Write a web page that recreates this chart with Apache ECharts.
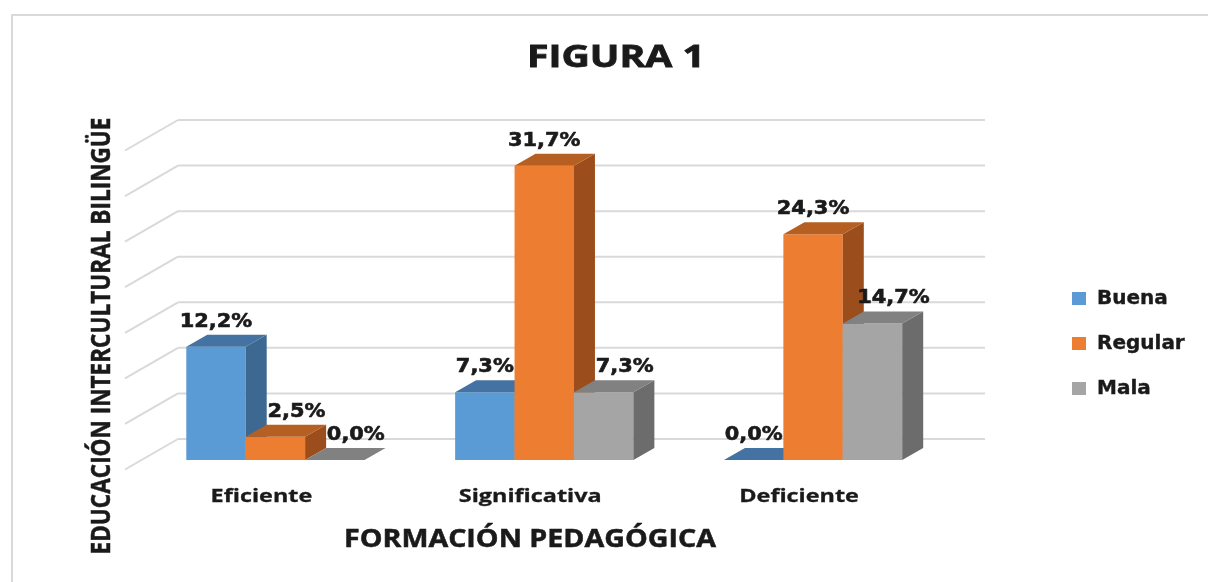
<!DOCTYPE html>
<html>
<head>
<meta charset="utf-8">
<script src="https://cdn.jsdelivr.net/npm/echarts@6/dist/echarts.min.js"></script>
<style>html,body{margin:0;padding:0;background:#fff;}#c{width:1208px;height:582px;}</style>
</head>
<body>
<div id="c"></div>
<script>
const categories = ['Eficiente', 'Significativa', 'Deficiente'];
const seriesNames = ['Buena', 'Regular', 'Mala'];
const buena = [12.2, 7.3, 0.0];
const regular = [2.5, 31.7, 24.3];
const mala = [0.0, 7.3, 14.7];
const yTicks = [0, 5, 10, 15, 20, 25, 30, 35];
const titleText = 'FIGURA 1';
const xTitle = 'FORMACIÓN PEDAGÓGICA';
const yTitle = 'EDUCACIÓN INTERCULTURAL BILINGÜE';

const values = [buena, regular, mala];
const palette = [
  { front: '#5B9BD5', top: '#4472A2', side: '#3C6891' },
  { front: '#ED7D31', top: '#B65F22', side: '#9B4E1C' },
  { front: '#A5A5A5', top: '#818181', side: '#6C6C6C' }
];
const DX = 21, DY = -12, BAR_FRAC = 0.221;
const INK = '#1A1A1A';

function measure(text, font) {
  const c = document.createElement('canvas').getContext('2d');
  c.font = font;
  return c.measureText(text).width;
}
function fmt(v) { return v.toFixed(1).replace('.', ',') + '%'; }

function barGeom(api, s) {
  const cat = api.value(0), val = api.value(1);
  const p = api.coord([cat, val]);
  const p0 = api.coord([cat, 0]);
  const band = api.size([1, 0])[0];
  const w = band * BAR_FRAC;
  const x0 = p[0] + (s - 1) * w - w / 2;
  return { x0: x0, x1: x0 + w, yTop: p[1], yBot: p0[1], val: val, cat: cat };
}

function barSeries(s) {
  return {
    type: 'custom', name: seriesNames[s], xAxisIndex: 0, yAxisIndex: 0, z: 2,
    itemStyle: { color: palette[s].front },
    data: values[s].map((v, i) => [i, v]),
    renderItem: function (params, api) {
      const g = barGeom(api, s);
      const c = palette[s];
      const children = [];
      if (g.yBot - g.yTop > 0) {
        children.push({ type: 'rect', shape: { x: g.x0, y: g.yTop, width: g.x1 - g.x0, height: g.yBot - g.yTop }, style: { fill: c.front } });
        children.push({ type: 'polygon', shape: { points: [[g.x1, g.yTop], [g.x1 + DX, g.yTop + DY], [g.x1 + DX, g.yBot + DY], [g.x1, g.yBot]] }, style: { fill: c.side } });
      }
      children.push({ type: 'polygon', shape: { points: [[g.x0, g.yTop], [g.x1, g.yTop], [g.x1 + DX, g.yTop + DY], [g.x0 + DX, g.yTop + DY]] }, style: { fill: c.top } });
      return { type: 'group', children: children };
    }
  };
}

const LBL_FONT = 'bold 19px "DejaVu Sans"';
function labelSeries(s) {
  return {
    type: 'custom', name: seriesNames[s] + '_lbl', xAxisIndex: 0, yAxisIndex: 0, z: 5,
    data: values[s].map((v, i) => [i, v]),
    renderItem: function (params, api) {
      const g = barGeom(api, s);
      let shift = 0;
      if (s > 0 && values[s - 1][params.dataIndex] > g.val) shift = 21;
      return {
        type: 'text',
        x: (g.x0 + g.x1) / 2 + shift, y: g.yTop + DY - 13,
        scaleX: 1.1,
        style: { text: fmt(g.val), font: LBL_FONT, fill: INK, stroke: INK, lineWidth: 0.6, align: 'center', verticalAlign: 'middle' }
      };
    }
  };
}

const CAT_FONT = 'bold 18px "Open Sans"';
const categoryLabelSeries = {
  type: 'custom', name: 'cats', xAxisIndex: 0, yAxisIndex: 0, z: 5, silent: true,
  data: categories.map((c, i) => [i, 0]),
  renderItem: function (params, api) {
    const p = api.coord([api.value(0), 0]);
    return {
      type: 'text', x: p[0] - 14, y: p[1] + 37, scaleX: 1.3,
      style: { text: categories[params.dataIndex], font: CAT_FONT, fill: INK, stroke: INK, lineWidth: 0.3, align: 'center', verticalAlign: 'middle' }
    };
  }
};

const wallSeries = {
  type: 'custom', name: 'wall', xAxisIndex: 1, yAxisIndex: 1, z: 1, silent: true,
  data: yTicks.map(v => [0, v]),
  renderItem: function (params, api) {
    const v = api.value(1);
    const a = api.coord([0, v]);
    const b = api.coord([1, v]);
    const ls = { stroke: '#D9D9D9', lineWidth: 2 };
    return {
      type: 'group', children: [
        { type: 'line', shape: { x1: a[0], y1: a[1], x2: b[0], y2: b[1] }, style: ls },
        { type: 'line', shape: { x1: a[0], y1: a[1], x2: a[0] - 53, y2: a[1] + 30.5 }, style: ls }
      ]
    };
  }
};

const chart = echarts.init(document.getElementById('c'), null, { renderer: 'canvas' });

const titleFont = 'bold 31px "Open Sans"';
const xTitleFont = 'bold 25px "Open Sans"';
const yTitleFont = 'bold 27px "Open Sans"';

const option = {
  animation: false,
  backgroundColor: '#ffffff',
  grid: [
    { left: 141, right: 260.5, top: 135, bottom: 122 },
    { left: 178, right: 223, top: 120, bottom: 143 }
  ],
  xAxis: [
    {
      type: 'category', data: categories, gridIndex: 0,
      axisLine: { show: false }, axisTick: { show: false }, splitLine: { show: false }, axisLabel: { show: false }
    },
    { type: 'value', gridIndex: 1, min: 0, max: 1, show: false }
  ],
  yAxis: [
    { type: 'value', gridIndex: 0, min: 0, max: 35, interval: 5, show: false },
    { type: 'value', gridIndex: 1, min: 0, max: 35, interval: 5, show: false }
  ],
  legend: {
    data: seriesNames,
    orient: 'vertical', left: 1067, top: 283, itemGap: 24,
    itemWidth: 14, itemHeight: 13, icon: 'rect',
    textStyle: { fontFamily: 'DejaVu Sans', fontWeight: 'bold', fontSize: 20, color: INK, lineHeight: 21, padding: [0, 0, 0, 6], textBorderColor: INK, textBorderWidth: 0.4 }
  },
  graphic: [
    { type: 'rect', z: 0, shape: { x: 12, y: 15, width: 1220, height: 600 }, style: { fill: 'none', stroke: '#D9D9D9', lineWidth: 2 } },
    { type: 'text', z: 10, x: 616, y: 58, scaleX: 178 / measure(titleText, titleFont),
      style: { text: titleText, font: titleFont, fill: INK, stroke: INK, lineWidth: 0.8, align: 'center', verticalAlign: 'middle' } },
    { type: 'text', z: 10, x: 530, y: 540, scaleX: 372 / measure(xTitle, xTitleFont),
      style: { text: xTitle, font: xTitleFont, fill: INK, stroke: INK, lineWidth: 0.5, align: 'center', verticalAlign: 'middle' } },
    { type: 'text', z: 10, x: 102, y: 336, rotation: Math.PI / 2, scaleX: 437 / measure(yTitle, yTitleFont),
      style: { text: yTitle, font: yTitleFont, fill: INK, stroke: INK, lineWidth: 0.5, align: 'center', verticalAlign: 'middle' } }
  ],
  series: [wallSeries, barSeries(0), barSeries(1), barSeries(2), labelSeries(0), labelSeries(1), labelSeries(2), categoryLabelSeries]
};
chart.setOption(option);
</script>
</body>
</html>
